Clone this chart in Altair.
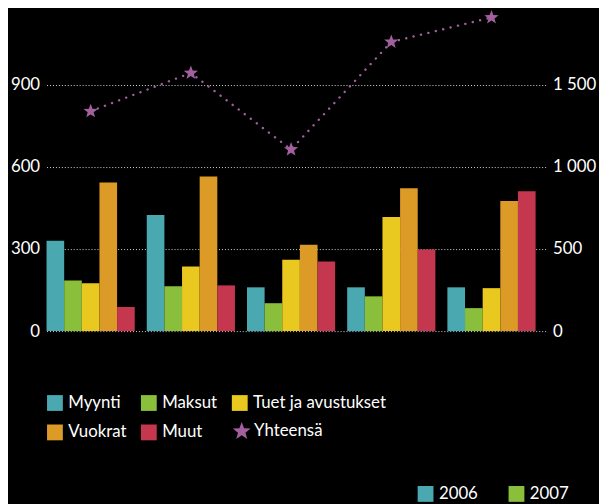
import altair as alt
import pandas as pd

# ---- data ----
years = ["2006", "2007", "2008", "2009", "2010"]
series = ["Myynti", "Maksut", "Tuet ja avustukset", "Vuokrat", "Muut"]
colors = ["#4AA8B0", "#8ABF3C", "#E9C81F", "#DC9B26", "#C5374F"]
myynti = [330, 424, 160, 160, 160]
maksut = [185, 164, 102, 127, 84]
tuet = [175, 236, 261, 417, 157]
vuokrat = [543, 565, 316, 522, 475]
muut = [88, 167, 254, 298, 511]
yhteensa = [1339, 1572, 1106, 1761, 1910]
total_label = "Yhteensä"
left_ticks = [0, 300, 600, 900]
right_ticks = [0, 500, 1000, 1500]

star_color = "#A2609F"
FONT = "Lato"
STAR = ("M0,-1L0.247,-0.34L0.951,-0.309L0.399,0.13L0.588,0.809L0,0.42"
        "L-0.588,0.809L-0.399,0.13L-0.951,-0.309L-0.247,-0.34Z")

rows = []
for s, vals in zip(series, [myynti, maksut, tuet, vuokrat, muut]):
    for y, v in zip(years, vals):
        rows.append({"vuosi": y, "sarja": s, "arvo": v})
bars_df = pd.DataFrame(rows)
tot_df = pd.DataFrame({"vuosi": years, "yht": yhteensa, "nimi": [total_label] * len(years)})
yr_df = pd.DataFrame({"vuosi": years})

xscale = alt.Scale(paddingInner=0.12, paddingOuter=0.06, align=0)
x_axis = alt.X(
    "vuosi:N", sort=years, scale=xscale,
    axis=alt.Axis(title=None, labelAngle=0, domain=False, ticks=False, labelPadding=11,
                  labelFontSize=17, labelColor="white", labelFont=FONT, orient="bottom"),
)
x_noaxis = alt.X("vuosi:N", sort=years, scale=xscale, axis=None)

bars = alt.Chart(bars_df).mark_bar(strokeWidth=0).encode(
    x=x_axis,
    xOffset=alt.XOffset("sarja:N", sort=series, scale=alt.Scale(paddingInner=0, paddingOuter=0)),
    y=alt.Y("arvo:Q", scale=alt.Scale(domain=[0, 1170], nice=False),
            axis=alt.Axis(values=left_ticks, title=None, orient="left", domain=False, ticks=False,
                          labelPadding=7, grid=True, gridColor="#d8d8d8", gridDash=[1, 2], gridWidth=1,
                          labelFontSize=17, labelColor="white", labelFont=FONT)),
    color=alt.Color("sarja:N", sort=series, scale=alt.Scale(domain=series, range=colors),
                    legend=alt.Legend(orient="none", legendX=0, legendY=388, columns=3,
                                      direction="horizontal", title=None,
                                      symbolType="square", symbolSize=256, symbolStrokeWidth=0,
                                      symbolOpacity=1, labelFontSize=17, labelColor="white",
                                      labelFont=FONT, labelOffset=5, columnPadding=14, rowPadding=12,
                                      padding=0)),
)

yscale_r = alt.Scale(domain=[0, 1950], nice=False)

line = alt.Chart(tot_df).mark_line(color=star_color, strokeDash=[0.1, 7.6], strokeWidth=2.4,
                                   strokeCap="round").encode(
    x=x_noaxis,
    y=alt.Y("yht:Q", scale=yscale_r,
            axis=alt.Axis(values=right_ticks, title=None, orient="right", domain=False, ticks=False,
                          grid=False,
                          labelExpr="replace(format(datum.value, ','), ',', ' ')",
                          labelPadding=5, labelFontSize=17, labelColor="white", labelFont=FONT)),
)
stars = alt.Chart(tot_df).mark_point(filled=True, size=230, color=star_color, opacity=1,
                                     strokeWidth=0).encode(
    x=x_noaxis,
    y=alt.Y("yht:Q", scale=yscale_r, axis=None),
    shape=alt.Shape("nimi:N", scale=alt.Scale(domain=[total_label], range=[STAR]),
                    legend=alt.Legend(orient="none", legendX=188, legendY=416, title=None,
                                      symbolSize=360, symbolFillColor=star_color,
                                      symbolStrokeColor=star_color, symbolStrokeWidth=0,
                                      symbolOpacity=1, labelFontSize=17, labelColor="white",
                                      labelFont=FONT, labelOffset=3, padding=0)),
)

year_legend = alt.Chart(yr_df).mark_square(opacity=0).encode(
    color=alt.Color("vuosi:N", sort=years, scale=alt.Scale(domain=years, range=colors),
                    legend=alt.Legend(orient="none", legendX=375, legendY=480, direction="horizontal",
                                      columns=5, title=None, symbolType="square", symbolSize=256,
                                      symbolStrokeWidth=0, symbolOpacity=1, labelFontSize=17,
                                      labelColor="white", labelFont=FONT, labelOffset=5,
                                      columnPadding=30, padding=0)),
)

chart = alt.layer(bars, line, stars, year_legend).resolve_scale(
    y="independent", color="independent", shape="independent"
).properties(
    width=507, height=324, background="black",
    padding={"left": 39, "top": 0, "right": 52, "bottom": 172},
    autosize=alt.AutoSizeParams(type="none"),
).configure_view(stroke=None)

chart.save("out.html", embed_options={"renderer": "svg", "actions": False})
